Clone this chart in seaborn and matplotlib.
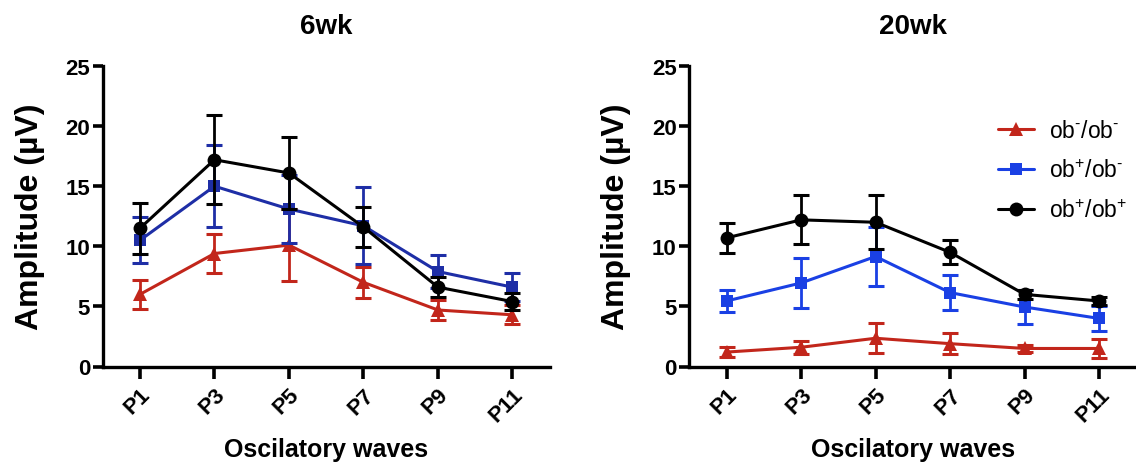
"""ERG oscillatory potential amplitudes at 6 and 20 weeks, three genotypes."""

import numpy as np
import pandas as pd
import matplotlib
matplotlib.use("Agg")
import matplotlib.pyplot as plt
import seaborn as sns

# ── data ──────────────────────────────────────────────────────────────────────
waves = ["P1", "P3", "P5", "P7", "P9", "P11"]
genotypes = [r"ob$^{\text{-}}$/ob$^{\text{-}}$",
             r"ob$^{+}$/ob$^{\text{-}}$",
             r"ob$^{+}$/ob$^{+}$"]
panels = ["6wk", "20wk"]

wk6_obmm = [6.0, 9.4, 10.1, 7.0, 4.7, 4.3]
wk6_obmm_err = [1.2, 1.6, 3.0, 1.3, 0.85, 0.8]
wk6_obpm = [10.5, 15.0, 13.1, 11.7, 7.9, 6.6]
wk6_obpm_err = [1.9, 3.4, 2.8, 3.2, 1.4, 1.15]
wk6_obpp = [11.5, 17.2, 16.1, 11.6, 6.6, 5.4]
wk6_obpp_err = [2.1, 3.7, 3.0, 1.65, 0.85, 0.7]

wk20_obmm = [1.2, 1.6, 2.35, 1.9, 1.5, 1.5]
wk20_obmm_err = [0.4, 0.55, 1.25, 0.9, 0.27, 0.76]
wk20_obpm = [5.45, 6.95, 9.15, 6.15, 4.95, 4.0]
wk20_obpm_err = [0.9, 2.05, 2.45, 1.45, 1.4, 1.05]
wk20_obpp = [10.7, 12.2, 12.0, 9.5, 6.0, 5.45]
wk20_obpp_err = [1.25, 2.05, 2.25, 1.0, 0.4, 0.3]

means = {
    "6wk": [wk6_obmm, wk6_obpm, wk6_obpp],
    "20wk": [wk20_obmm, wk20_obpm, wk20_obpp],
}
errs = {
    "6wk": [wk6_obmm_err, wk6_obpm_err, wk6_obpp_err],
    "20wk": [wk20_obmm_err, wk20_obpm_err, wk20_obpp_err],
}

# ── style ─────────────────────────────────────────────────────────────────────
sns.set_theme(style="ticks")
plt.rcParams["font.family"] = ["Liberation Sans", "DejaVu Sans"]
plt.rcParams["mathtext.fontset"] = "custom"
plt.rcParams["mathtext.rm"] = "Liberation Sans"
plt.rcParams["mathtext.it"] = "Liberation Sans:italic"
plt.rcParams["mathtext.bf"] = "Liberation Sans:bold"
plt.rcParams["mathtext.default"] = "regular"
for key in ["text.color", "axes.labelcolor", "xtick.color", "ytick.color"]:
    plt.rcParams[key] = "black"

colors = {
    "6wk": ["#C2261B", "#1E2EA6", "#000000"],
    "20wk": ["#C2261B", "#1A40E4", "#000000"],
}
markers = ["^", "s", "o"]
msizes = [10, 9, 10]

fig = plt.figure(figsize=(11.36, 4.64), dpi=100)
ax_w, ax_h = 447 / 1136, 300.5 / 464
ax_y = 1 - 367.5 / 464
axes = [fig.add_axes([102.7 / 1136, ax_y, ax_w, ax_h]),
        fig.add_axes([689.3 / 1136, ax_y, ax_w, ax_h])]

pos = np.arange(len(waves))

for ax, panel in zip(axes, panels):
    for i, lab in enumerate(genotypes):
        c = colors[panel][i]
        df = pd.DataFrame({"pos": pos, "amp": means[panel][i], "err": errs[panel][i]})
        ax.errorbar(df["pos"], df["amp"], yerr=df["err"], fmt="none", ecolor=c,
                    elinewidth=2.0, capsize=6, capthick=2.2, zorder=2 + i)
        sns.lineplot(data=df, x="pos", y="amp", ax=ax, color=c, marker=markers[i],
                     markersize=msizes[i], markeredgewidth=0, linewidth=2.2,
                     errorbar=None, label=lab, zorder=2 + i)

    ax.set_xlim(-0.5, 5.5)
    ax.set_ylim(0, 25)
    ax.set_yticks([0, 5, 10, 15, 20, 25])
    ax.set_xticks(pos)
    ax.set_xticklabels(waves, rotation=45, ha="right", rotation_mode="anchor")
    for t in ax.get_xticklabels() + ax.get_yticklabels():
        t.set_fontweight("bold")
    ax.tick_params(axis="y", length=7.5, width=2.6, pad=1.5, labelsize=16)
    ax.tick_params(axis="x", length=8.5, width=2.6, pad=4, labelsize=16)
    for side in ["top", "right"]:
        ax.spines[side].set_visible(False)
    for side in ["left", "bottom"]:
        ax.spines[side].set_linewidth(2.4)
        ax.spines[side].set_color("black")
    ax.set_title(panel, fontsize=20, fontweight="bold", pad=24)
    ax.set_ylabel("Amplitude (µV)", fontsize=23, fontweight="bold")
    ax.set_xlabel("Oscilatory waves", fontsize=18, fontweight="bold")
    ax.yaxis.set_label_coords(-0.13, 0.5)
    ax.xaxis.set_label_coords(0.5, -0.235)
    ax.xaxis.label.set_va("top")

    leg = ax.get_legend()
    if leg is not None:
        leg.remove()

axes[1].legend(loc="upper left", bbox_to_anchor=(0.69, 0.825), frameon=False,
               fontsize=16.5, handlelength=1.6, handletextpad=0.65,
               labelspacing=0.75, borderpad=0, borderaxespad=0)

fig.savefig("out.png", dpi=100)
plt.close(fig)
